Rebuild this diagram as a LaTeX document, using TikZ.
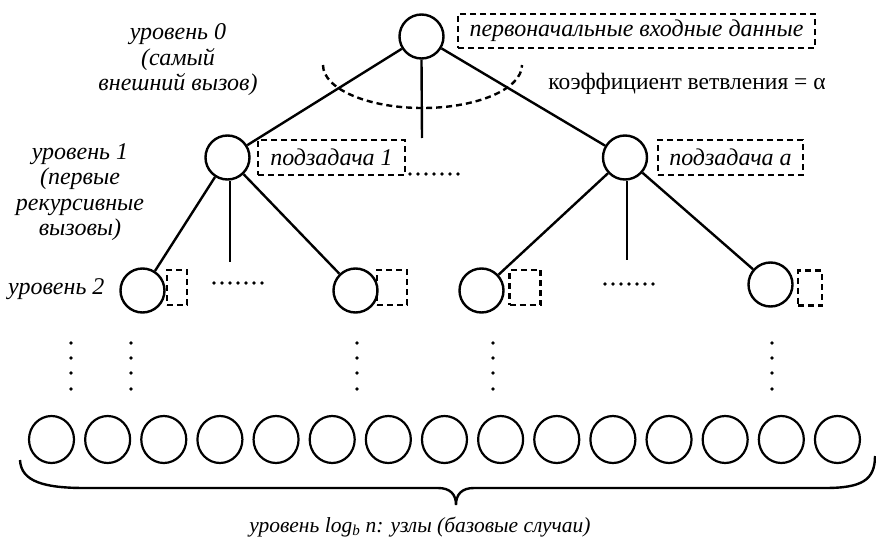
\documentclass[tikz,border=0pt]{standalone}
\usepackage{fontspec}
\setmainfont{Liberation Serif}
\usetikzlibrary{shapes.geometric}
\begin{document}
\begin{tikzpicture}[x=1pt,y=-1pt,
  nd/.style={circle,draw,line width=2.4pt,minimum size=44pt,inner sep=0pt},
  leaf/.style={ellipse,draw,line width=2.2pt,minimum width=45pt,minimum height=47pt,inner sep=0pt},
  edge/.style={line width=2.4pt},
  dbox/.style={draw,line width=2.4pt,dash pattern=on 6pt off 4pt,inner sep=0pt,font=\itshape\fontsize{24}{28}\selectfont},
  lbl/.style={font=\itshape\fontsize{24}{25.5}\selectfont,align=center,inner sep=0pt},
  dotc/.style={fill,circle,inner sep=0pt,minimum size=3.6pt}
]
\useasboundingbox (0,0) rectangle (876,538);

% tree nodes
\node[nd] (r) at (421.5,36.5) {};
\node[nd] (a) at (227.5,157.5) {};
\node[nd] (b) at (625,157.5) {};
\node[nd] (a1) at (142.5,290.5) {};
\node[nd] (a2) at (355.5,290.5) {};
\node[nd] (b1) at (481.5,290.5) {};
\node[nd] (b2) at (770.5,284.5) {};

% edges
\draw[edge] (r) -- (a);
\draw[edge] (r) -- (b);
\coordinate (m0) at (422,138);
\draw[edge] (r.south) -- (m0);
\draw[edge] (a) -- (a1);
\draw[edge] (a) -- (a2);
\coordinate (ma) at (230,262);
\draw[edge] (a.south -| ma) -- (ma);
\draw[edge] (b) -- (b1);
\draw[edge] (b) -- (b2);
\coordinate (mb) at (627,260);
\draw[edge] (b.south -| mb) -- (mb);

% dashed arc (branching factor)
\draw[line width=2.4pt,dash pattern=on 6pt off 4pt] (323,65) arc[start angle=180,end angle=360,x radius=99.5,y radius=-43];

% dashed boxes with text
\node[dbox,minimum width=357pt,minimum height=34pt] (t0) at (636.5,31) {первоначальные входные данные};
\node[dbox,minimum width=147pt,minimum height=35pt] (t1) at (331.5,157.5) {подзадача 1};
\node[dbox,minimum width=145pt,minimum height=35pt] (t2) at (730.5,157.5) {подзадача a};

% small dashed boxes
\node[dbox,minimum width=20pt,minimum height=35pt] (s1) at (177,287.5) {};
\node[dbox,minimum width=30pt,minimum height=35pt] (s2) at (392,287.5) {};
\node[dbox,minimum width=31pt,minimum height=35pt] (s3) at (525,287.5) {};
\node[dbox,minimum width=24pt,minimum height=35pt] (s4) at (810,288) {};

% horizontal dots
\foreach \i in {0,...,6} {
  \node[dotc] at (410+8*\i,174) {};
  \node[dotc] at (214+8*\i,283) {};
  \node[dotc] at (605+8*\i,284) {};
}
% vertical dots
\foreach \x in {71,131,357,493,772} {
  \foreach \y in {343,358,373,389} {
    \node[dotc] at (\x,\y) {};
  }
}

% leaves
\foreach \i in {1,...,15} {
  \node[leaf] (l\i) at ({51.5+56.14*(\i-1)},439.5) {};
}

% brace
\coordinate (bl) at (20,460);
\coordinate (br) at (875,456);
\coordinate (bt) at (456,505);
\draw[line width=2.4pt] (bl) .. controls (21,482) and (45,488) .. (85,488) -- (438,488)
  .. controls (450,488) and (456,494) .. (bt)
  .. controls (456,494) and (462,488) .. (474,488) -- (825,488)
  .. controls (862,488) and (875,480) .. (br);

% labels
\node[lbl] (L0) at (178,60) {уровень 0\\(самый\\внешний вызов)};
\node[lbl] (L1) at (80,192) {уровень 1\\(первые\\рекурсивные\\вызовы)};
\node[lbl,anchor=west] (L2) at (8,289) {уровень 2};
\node[font=\fontsize{23.5}{28}\selectfont,inner sep=0pt] (k) at (687,84) {коэффициент ветвления = α};
\node[font=\itshape\fontsize{21.5}{24}\selectfont,inner sep=0pt] (bot) at (420,527) {уровень log\textsubscript{\itshape b} n: узлы (базовые случаи)};
\end{tikzpicture}
\end{document}
